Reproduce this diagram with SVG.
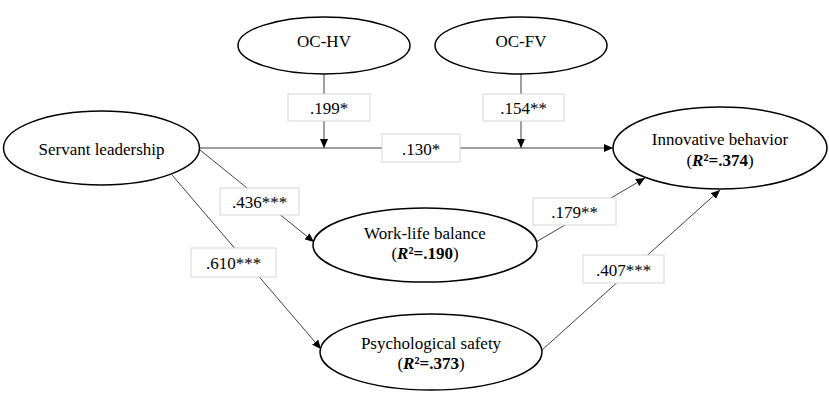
<svg xmlns="http://www.w3.org/2000/svg" width="829" height="395" viewBox="0 0 829 395">
<style>
  .node { fill: #ffffff; stroke: #000000; stroke-width: 1.5; }
  .lbl { fill: #ffffff; stroke: #d6d6d6; stroke-width: 1; }
  .edge { fill: none; stroke: #404040; stroke-width: 1; }
  text { font-family: "Liberation Serif", "Times New Roman", serif; font-size: 17px; fill: #000000; text-anchor: middle; }
  .b { font-weight: bold; }
  .bi { font-weight: bold; font-style: italic; }
</style>
<defs>
  <marker id="arr" markerUnits="userSpaceOnUse" markerWidth="10" markerHeight="8" refX="9" refY="4" orient="auto">
    <path d="M0,0 L9,4 L0,8 Z" fill="#000000"/>
  </marker>
</defs>
<rect width="829" height="395" fill="#ffffff"/>
<g id="connectors">
  <line class="edge" x1="200" y1="148" x2="613" y2="148" marker-end="url(#arr)"/>
  <line class="edge" x1="324" y1="74" x2="324" y2="148" marker-end="url(#arr)"/>
  <line class="edge" x1="521" y1="74" x2="521" y2="148" marker-end="url(#arr)"/>
  <line class="edge" x1="200" y1="150" x2="314" y2="242" marker-end="url(#arr)"/>
  <line class="edge" x1="172" y1="175" x2="321" y2="349" marker-end="url(#arr)"/>
  <line class="edge" x1="536" y1="242" x2="645" y2="178" marker-end="url(#arr)"/>
  <line class="edge" x1="542" y1="350" x2="720" y2="190" marker-end="url(#arr)"/>
  <g id="label-199"><rect class="lbl" x="288" y="94" width="82" height="27"/><text x="329" y="114">.199*</text></g>
  <g id="label-154"><rect class="lbl" x="483" y="94" width="81" height="27"/><text x="523.5" y="114">.154**</text></g>
  <g id="label-130"><rect class="lbl" x="382" y="134" width="78" height="28"/><text x="421" y="155">.130*</text></g>
  <g id="label-436"><rect class="lbl" x="220" y="188" width="79" height="27"/><text x="259.5" y="208">.436***</text></g>
  <g id="label-610"><rect class="lbl" x="191" y="248" width="85" height="29"/><text x="233.5" y="269">.610***</text></g>
  <g id="label-179"><rect class="lbl" x="533" y="198" width="83" height="27"/><text x="574.5" y="218">.179**</text></g>
  <g id="label-407"><rect class="lbl" x="583" y="255" width="81" height="28"/><text x="623.5" y="276">.407***</text></g>
</g>
<g id="node-ochv">
  <ellipse class="node" cx="324" cy="45.5" rx="86" ry="28.5"/>
  <text x="324" y="47">OC-HV</text>
</g>
<g id="node-ocfv">
  <ellipse class="node" cx="521" cy="45.5" rx="86" ry="28.5"/>
  <text x="521" y="47">OC-FV</text>
</g>
<g id="node-servant">
  <ellipse class="node" cx="101.5" cy="148" rx="98" ry="37"/>
  <text x="101.5" y="155">Servant leadership</text>
</g>
<g id="node-innovative">
  <ellipse class="node" cx="720" cy="148" rx="107" ry="41"/>
  <text x="720" y="145">Innovative behavior</text>
  <text x="720" y="166">(<tspan class="bi">R</tspan><tspan class="b">²=.374</tspan>)</text>
</g>
<g id="node-worklife">
  <ellipse class="node" cx="425" cy="245" rx="112" ry="37"/>
  <text x="425" y="239">Work-life balance</text>
  <text x="425" y="259">(<tspan class="bi">R</tspan><tspan class="b">²=.190</tspan>)</text>
</g>
<g id="node-psych">
  <ellipse class="node" cx="431" cy="352" rx="111" ry="38"/>
  <text x="431" y="349">Psychological safety</text>
  <text x="431" y="369">(<tspan class="bi">R</tspan><tspan class="b">²=.373</tspan>)</text>
</g>
</svg>
